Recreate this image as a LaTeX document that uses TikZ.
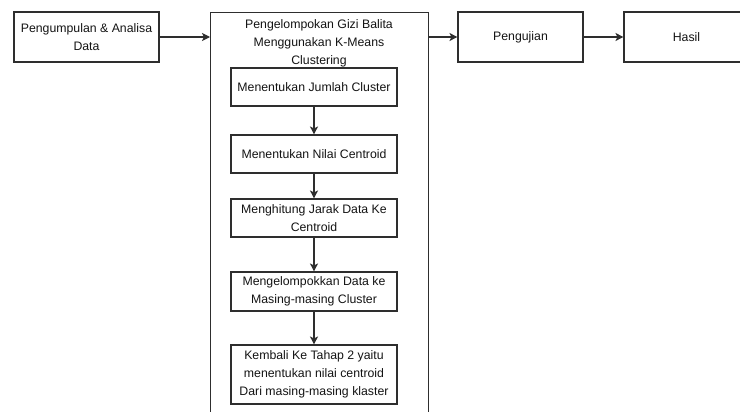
\documentclass[tikz,border=0pt]{standalone}
\usepackage{fontspec}
\setmainfont{Liberation Sans}
\usetikzlibrary{arrows.meta}
\definecolor{linec}{HTML}{2E2E2E}
\definecolor{txtc}{HTML}{141414}
\tikzset{
  box/.style={draw=linec, line width=1.1pt, fill=white, text=txtc, align=center,
    inner sep=0pt, font=\fontsize{12.3}{18}\selectfont},
  outerbox/.style={box, minimum width=145pt, minimum height=50pt},
  stepbox/.style={box, minimum width=166pt},
  arr/.style={draw=linec, line width=1.1pt, -{Stealth[length=8pt,width=8pt,inset=2pt]}},
}
\begin{document}
\begin{tikzpicture}[x=1pt,y=-1pt]
\clip (0,0) rectangle (740,412);
\fill[white] (0,0) rectangle (740,412);
% top row
\node[outerbox] (b1) at (86.5,37) {Pengumpulan \& Analisa\\Data};
\node[box, minimum width=218pt, minimum height=430pt, anchor=north west] (big) at (210,12) {};
\node[text=txtc, align=center, inner sep=0pt, anchor=north, font=\fontsize{12.3}{18}\selectfont] (title) at (319,19.5)
  {Pengelompokan Gizi Balita\\Menggunakan K-Means\\Clustering};
\node[box, minimum width=125pt, minimum height=50pt] (peng) at (520.5,37) {Pengujian};
\node[box, minimum width=125pt, minimum height=50pt] (hasil) at (686.5,37) {Hasil};
% inner steps
\node[stepbox, minimum height=38pt] (i1) at (314,87) {Menentukan Jumlah Cluster};
\node[stepbox, minimum height=38pt] (i2) at (314,154) {Menentukan Nilai Centroid};
\node[stepbox, minimum height=38pt] (i3) at (314,218) {Menghitung Jarak Data Ke\\Centroid};
\node[stepbox, minimum height=39pt] (i4) at (314,291.5) {Mengelompokkan Data ke\\Masing-masing Cluster};
\node[stepbox, minimum height=59pt] (i5) at (314,374.5) {Kembali Ke Tahap 2 yaitu\\menentukan nilai centroid\\Dari masing-masing klaster};
% connectors
\coordinate (bigin) at (210,37);
\coordinate (bigout) at (428,37);
\draw[arr] (b1.east) -- (bigin);
\draw[arr] (bigout) -- (peng.west);
\draw[arr] (peng.east) -- (hasil.west);
\draw[arr] (i1.south) -- (i2.north);
\draw[arr] (i2.south) -- (i3.north);
\draw[arr] (i3.south) -- (i4.north);
\draw[arr] (i4.south) -- (i5.north);
\end{tikzpicture}
\end{document}
